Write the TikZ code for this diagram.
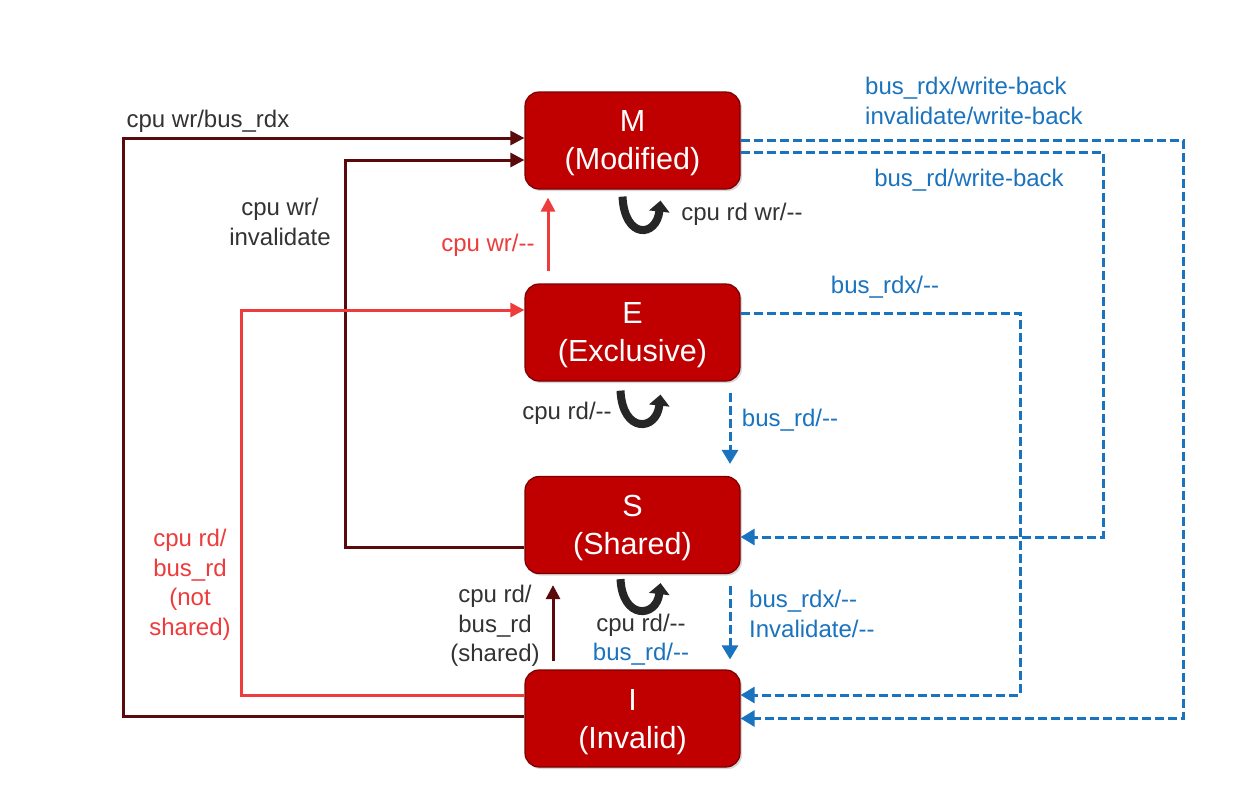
\documentclass[tikz,border=0pt]{standalone}
\usepackage{fontspec}
\setmainfont{Liberation Sans}[Ligatures=TeXOff]
\usetikzlibrary{arrows.meta,shadows,calc}
\definecolor{boxred}{HTML}{C00000}
\definecolor{boxedge}{HTML}{7A0000}
\definecolor{maroonc}{HTML}{5A0A0A}
\definecolor{lred}{HTML}{EE3B3B}
\definecolor{lblue}{HTML}{1A73BE}
\definecolor{lbl}{HTML}{333333}
\definecolor{loopc}{HTML}{262626}
\begin{document}
\begin{tikzpicture}[x=1pt,y=-1pt,
 state/.style={draw=boxedge, line width=1.2pt, fill=boxred, rounded corners=14pt,
   minimum width=215pt, minimum height=97pt, text=white, text depth=0pt,
   font=\fontsize{30.5}{38}\selectfont, align=center, inner sep=0pt,
   drop shadow={opacity=0.3, shadow xshift=2pt, shadow yshift=-2pt}},
 lab/.style={font=\fontsize{24}{29.5}\selectfont, align=center, inner sep=0pt, text=lbl},
 redlab/.style={lab, text=lred},
 bluelab/.style={lab, text=lblue},
 darkedge/.style={draw=maroonc, line width=3pt, -{Triangle[length=14pt,width=14pt]}},
 rededge/.style={draw=lred, line width=3pt, -{Triangle[length=14pt,width=14pt]}},
 blueedge/.style={draw=lblue, line width=3pt, dash pattern=on 9pt off 4pt, -{Triangle[length=14pt,width=16pt]}},
 selfloop/.style={draw=loopc, line width=8pt, -{Triangle[length=11pt,width=20pt]}}
]
\fill[white] (0,0) rectangle (1237,793);
\path[use as bounding box] (0,0) rectangle (1237,793);

% states
\node[state] (M) at (632.5,140.5) {M\\(Modified)};
\node[state] (E) at (632.5,332.5) {E\\(Exclusive)};
\node[state] (S) at (632.5,525) {S\\(Shared)};
\node[state] (I) at (632.5,718.5) {I\\(Invalid)};

% dark transitions
\draw[darkedge] ($(I.west)+(0,-2)$) -- (123,716.5) |- ($(M.west)+(0,-2.5)$);
\draw[darkedge] ($(S.west)+(0,22)$) -- (345,547) |- ($(M.west)+(0,19.5)$);
\draw[darkedge] ($(I.north)+(-79.5,-8)$) -- ($(S.south)+(-79.5,11)$);

% red transitions
\draw[rededge] ($(E.north)+(-84.5,-12)$) -- ($(M.south)+(-84.5,8)$);
\draw[rededge] ($(I.west)+(0,-23.5)$) -- (241,695) |- ($(E.west)+(0,-22.5)$);

% blue transitions
\draw[blueedge] ($(M.east)+(0,11.5)$) -- (1103,152) |- ($(S.east)+(0,12)$);
\draw[blueedge] ($(M.east)+(0,-0.5)$) -- (1183,140) |- (I.east);
\draw[blueedge] ($(E.east)+(0,-19.5)$) -- (1020,313) |- ($(I.east)+(0,-23.5)$);
\draw[blueedge] ($(E.south)+(97.5,11)$) -- ($(S.north)+(97.5,-12)$);
\draw[blueedge] ($(S.south)+(97.5,12)$) -- ($(I.north)+(97.5,-10)$);

% self loops
\draw[selfloop] ($(M.south)+(-10,7)$) .. controls ($(M.south)+(-8,50)$) and ($(M.south)+(24,48)$) .. ($(M.south)+(28,11)$);
\draw[selfloop] ($(E.south)+(-12,9)$) .. controls ($(E.south)+(-10,52)$) and ($(E.south)+(24,50)$) .. ($(E.south)+(28,13)$);
\draw[selfloop] ($(S.south)+(-12,5)$) .. controls ($(S.south)+(-10,46)$) and ($(S.south)+(24,44)$) .. ($(S.south)+(28,9)$);

% labels
\node[lab] (l1) at (208,121) {cpu wr/bus\_rdx};
\node[lab] (l2) at (280,222) {cpu wr/\\invalidate};
\node[redlab] (l3) at (488,245) {cpu wr/--};
\node[redlab] (l4) at (190,585) {cpu rd/\\bus\_rd\\(not\\shared)};
\node[lab] (l5) at (495,626) {cpu rd/\\bus\_rd\\(shared)};
\node[lab] (l6) at (742,214) {cpu rd wr/--};
\node[lab] (l7) at (567,413) {cpu rd/--};
\node[lab] (l8) at (641,625) {cpu rd/--};
\node[bluelab] (l9) at (641,654) {bus\_rd/--};
\node[bluelab, anchor=west, align=left] (l10) at (865,101) {bus\_rdx/write-back\\invalidate/write-back};
\node[bluelab] (l11) at (969,180) {bus\_rd/write-back};
\node[bluelab] (l12) at (885,287) {bus\_rdx/--};
\node[bluelab] (l13) at (790,420) {bus\_rd/--};
\node[bluelab, anchor=west, align=left] (l14) at (749,614) {bus\_rdx/--\\Invalidate/--};
\end{tikzpicture}
\end{document}
